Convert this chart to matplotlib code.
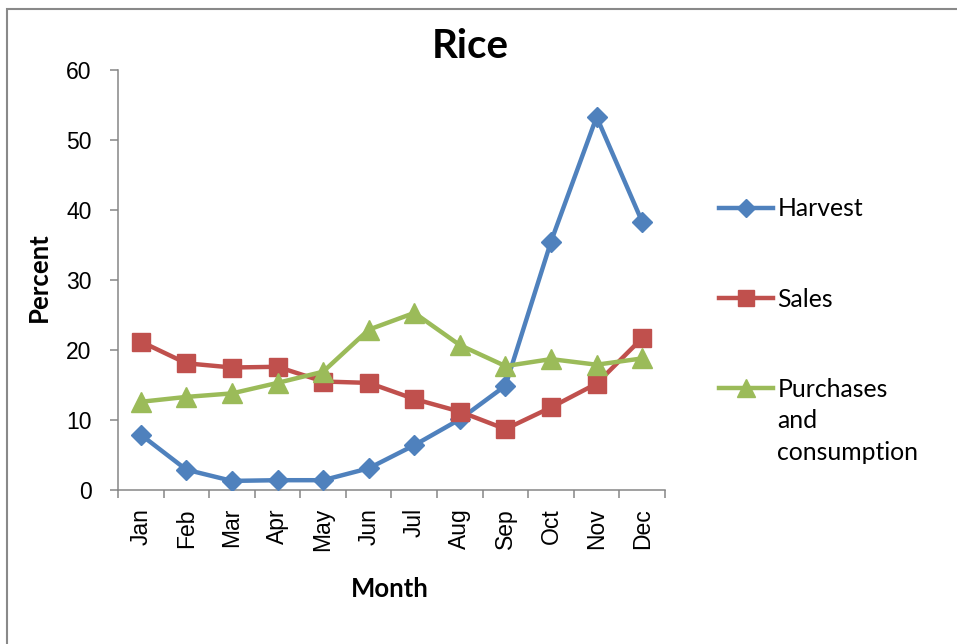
import matplotlib.pyplot as plt
from matplotlib.patches import Rectangle

# values (percent of yearly total per month)
months = ["Jan", "Feb", "Mar", "Apr", "May", "Jun",
          "Jul", "Aug", "Sep", "Oct", "Nov", "Dec"]
harvest = [7.9, 2.9, 1.3, 1.4, 1.4, 3.1, 6.4, 10.1, 14.9, 35.5, 53.3, 38.3]
sales = [21.2, 18.1, 17.5, 17.6, 15.5, 15.3, 13.0, 11.2, 8.7, 11.8, 15.2, 21.7]
purchases = [12.6, 13.3, 13.8, 15.3, 16.9, 22.9, 25.3, 20.7, 17.7, 18.7, 17.9, 18.8]
y_ticks = [0, 10, 20, 30, 40, 50, 60]

plt.rcParams["font.family"] = ["Lato", "DejaVu Sans"]

W, H = 957, 644
fig = plt.figure(figsize=(W / 100, H / 100), dpi=100)
ax = fig.add_axes([118 / W, 1 - 490 / H, (665 - 118) / W, (490 - 70) / H])

x = list(range(len(months)))
ax.plot(x, harvest, color="#4F81BD", lw=3.2, marker="D", ms=10, label="Harvest")
ax.plot(x, sales, color="#C0504D", lw=3.2, marker="s", ms=12.5, label="Sales")
ax.plot(x, purchases, color="#9BBB59", lw=3.2, marker="^", ms=14,
        label="Purchases")

# axes in the Excel 2007 look
grey = "#868686"
ax.set_xlim(-0.5, len(months) - 0.5)
ax.set_ylim(0, 60)
for side in ["top", "right"]:
    ax.spines[side].set_visible(False)
for side in ["left", "bottom"]:
    ax.spines[side].set_color(grey)
    ax.spines[side].set_linewidth(1.1)
    ax.spines[side].set_zorder(0.5)

tick_font = {"family": "Liberation Sans", "size": 16.5}
ax.set_yticks(y_ticks)
ax.set_yticklabels([str(v) for v in y_ticks], fontdict=tick_font)
ax.tick_params(axis="y", direction="out", length=6, width=1.1, color=grey,
               pad=13)

ax.set_xticks(x)
ax.set_xticklabels(months, fontdict=tick_font, rotation=90)
ax.set_xticks([i - 0.5 for i in range(len(months) + 1)], minor=True)
ax.tick_params(axis="x", which="major", length=0, pad=13)
ax.tick_params(axis="x", which="minor", direction="out", length=6, width=1.1,
               color=grey)

# titles
fig.text(470 / W, 1 - 58 / H, "Rice", fontsize=29, fontweight="bold",
         ha="center", va="baseline")
fig.text(390 / W, 1 - 597 / H, "Month", fontsize=18.5, fontweight="bold",
         ha="center", va="baseline")
fig.text(39 / W, 1 - 277 / H, "Percent", fontsize=18.5, fontweight="bold",
         ha="center", va="center", rotation=90)

# legend on the right, last entry wraps over three lines
leg = ax.legend(loc="upper left", bbox_to_anchor=(707 / W, 1 - 185 / H),
                bbox_transform=fig.transFigure, frameon=False, fontsize=17.8,
                borderpad=0, handlelength=2.15, handletextpad=0.2,
                labelspacing=2.72, markerscale=0.9)

fig.canvas.draw()
bb = leg.get_texts()[2].get_window_extent()
cx = bb.x0
cy = (bb.y0 + bb.y1) / 2
for shift, word in [(31, "and"), (63, "consumption")]:
    fig.text(cx / W, (cy - shift) / H, word, fontsize=17.8,
             ha="left", va="center")

# chart area border
fig.add_artist(Rectangle((7 / W, -0.1), 1.2, 1.1 - 9 / H,
                         transform=fig.transFigure, fill=False,
                         edgecolor="#898989", lw=1.5))

fig.savefig("out.png", dpi=100)
